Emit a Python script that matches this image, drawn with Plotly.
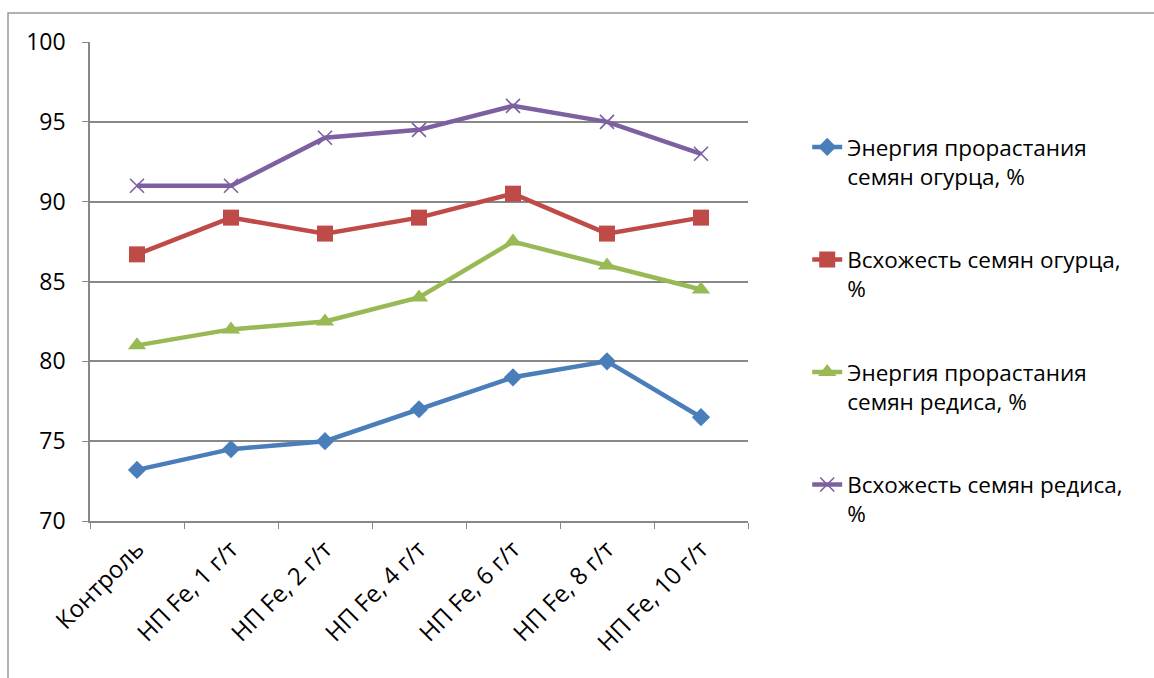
import plotly.graph_objects as go

categories = ["Контроль", "НП Fe, 1 г/т", "НП Fe, 2 г/т", "НП Fe, 4 г/т",
              "НП Fe, 6 г/т", "НП Fe, 8 г/т", "НП Fe, 10 г/т"]
energy_cucumber = [73.2, 74.5, 75.0, 77.0, 79.0, 80.0, 76.5]
germ_cucumber = [86.7, 89.0, 88.0, 89.0, 90.5, 88.0, 89.0]
energy_radish = [81.0, 82.0, 82.5, 84.0, 87.5, 86.0, 84.5]
germ_radish = [91.0, 91.0, 94.0, 94.5, 96.0, 95.0, 93.0]
y_ticks = [70, 75, 80, 85, 90, 95, 100]

series = [
    ("Энергия прорастания<br>семян огурца, %", energy_cucumber, "#4A7EBB",
     dict(symbol="diamond", size=14)),
    ("Всхожесть семян огурца,<br>%", germ_cucumber, "#BE4B48",
     dict(symbol="square", size=16)),
    ("Энергия прорастания<br>семян редиса, %", energy_radish, "#98B954",
     dict(symbol="triangle-up", size=16)),
    ("Всхожесть семян редиса,<br>%", germ_radish, "#7D60A0",
     dict(symbol="x-thin", size=14, line=dict(width=1.6, color="#7D60A0"))),
]

fig = go.Figure()
for i, (name, vals, color, mk) in enumerate(series):
    mk = dict(mk)
    mk["color"] = color
    fig.add_trace(go.Scatter(
        x=categories, y=vals, name=name, mode="lines+markers",
        line=dict(color=color, width=4.5), marker=mk,
        legendgroup=f"g{i}",
    ))

fig.update_layout(
    width=1154, height=678,
    margin=dict(l=90, r=406, t=42, b=157),
    paper_bgcolor="white", plot_bgcolor="white",
    font=dict(family="Open Sans, Noto Sans, sans-serif", color="#000000", size=22),
    legend=dict(
        x=1.09, y=0.825, xanchor="left", yanchor="top",
        font=dict(size=22.5), valign="top",
        tracegroupgap=51, bgcolor="rgba(0,0,0,0)",
    ),
    showlegend=True,
)
fig.update_xaxes(
    type="category", tickangle=-45, tickson="boundaries",
    ticks="outside", ticklen=6, tickcolor="#888888",
    showline=True, linecolor="#888888", linewidth=1.5,
    showgrid=False, tickfont=dict(size=24), ticklabelstandoff=3,
    range=[-0.5, 6.5],
)
fig.update_yaxes(
    range=[70, 100], tickvals=y_ticks, ticks="outside", ticklen=6,
    tickcolor="#888888", showline=True, linecolor="#888888", linewidth=1.5,
    showgrid=True, gridcolor="#888888", gridwidth=1.5,
    tickfont=dict(size=23), zeroline=False, ticklabelstandoff=12,
)
fig.add_shape(type="rect", xref="paper", yref="paper",
              x0=(8 - 90) / 658, x1=(1160 - 90) / 658,
              y0=-(690 - 521) / 479, y1=1 + (42 - 13) / 479,
              line=dict(color="#999999", width=1.5), fillcolor="rgba(0,0,0,0)",
              layer="below")

fig.write_html("out.html")
